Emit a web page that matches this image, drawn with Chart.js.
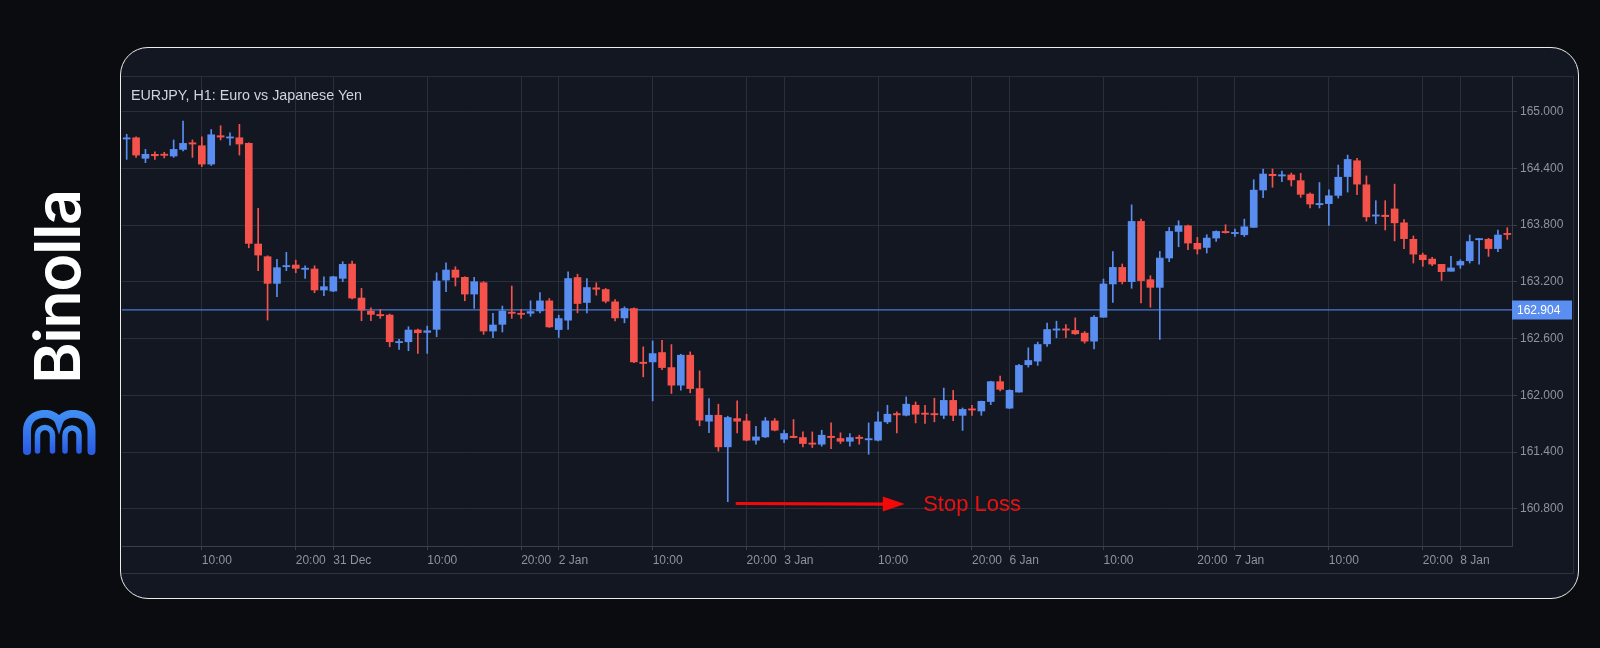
<!DOCTYPE html>
<html>
<head>
<meta charset="utf-8">
<script src="https://cdn.jsdelivr.net/npm/chart.js@4.4.1/dist/chart.umd.min.js"></script>
<style>
  html, body { margin: 0; padding: 0; width: 1600px; height: 648px; overflow: hidden; background: #0b0c10; }
  #card { position: absolute; left: 120px; top: 47px; width: 1459px; height: 552px; box-sizing: border-box;
          border: 1.5px solid #ececec; border-radius: 28px; background: #131722; }
  #frame { position: absolute; left: 122px; top: 76px; width: 1452px; height: 498px; box-sizing: border-box;
           border-top: 1px solid #2a2e39; border-right: 1px solid #2a2e39; border-bottom: 1px solid #2f333e; }
  #chart { position: absolute; left: 0; top: 0; }
  #title { position: absolute; left: 131px; top: 87px; font-family: "Liberation Sans", Arial, sans-serif;
           font-size: 14.3px; line-height: 16px; color: #d1d4dc; white-space: nowrap; }
  #brand { position: absolute; left: -43px; top: 252px; width: 200px; height: 70px; transform: rotate(-90deg);
           display: flex; align-items: center; justify-content: center; color: #ffffff;
           font-family: Inter, "Open Sans", sans-serif; font-weight: 600; font-size: 63px; letter-spacing: -1.5px; line-height: 70px; }
  #logo { position: absolute; left: 22px; top: 410px; }
</style>
</head>
<body>
<div id="card"></div>
<div id="frame"></div>
<canvas id="chart" width="1600" height="648"></canvas>
<div id="title">EURJPY, H1: Euro vs Japanese Yen</div>
<div id="brand">Binolla</div>
<svg id="logo" width="76" height="46" viewBox="0 0 76 46">
  <defs>
    <linearGradient id="lg" x1="0" y1="0" x2="0" y2="1">
      <stop offset="0" stop-color="#3f8cf3"/>
      <stop offset="1" stop-color="#2b5ee6"/>
    </linearGradient>
  </defs>
  <g fill="none" stroke="url(#lg)" stroke-linecap="round">
    <path stroke-width="8" d="M5 41 V21 C5 0 33 0 37 12 C41 0 69.5 0 69.5 21 V41"/>
    <path stroke-width="5.5" d="M15.5 41 V25 A7.5 7.5 0 0 1 30.5 25 V41"/>
    <path stroke-width="5.5" d="M43 41 V25 A7 7 0 0 1 57 25 V41"/>
  </g>
</svg>
<script>
// ---- data ----
const days = ['30 Dec', '31 Dec', '2 Jan', '3 Jan', '6 Jan', '7 Jan', '8 Jan'];
const firstHour = 2, lastHour = 5;
const categories = [];
days.forEach((d, di) => {
  const h0 = di === 0 ? firstHour : 0;
  const h1 = di === days.length - 1 ? lastHour : 23;
  for (let h = h0; h <= h1; h++) categories.push(d + ' ' + String(h).padStart(2, '0') + ':00');
});
const labeledHours = [0, 10, 20];

const opens = [164.710,164.723,164.506,164.548,164.548,164.530,164.600,164.670,164.639,164.445,
164.745,164.720,164.723,164.664,163.600,163.466,163.184,163.360,163.378,163.332,
163.336,163.114,163.103,163.237,163.388,163.029,162.891,162.853,162.849,162.557,
162.567,162.691,162.666,162.698,163.219,163.325,163.248,163.071,163.191,162.680,
162.751,162.880,162.867,162.868,162.893,162.999,162.696,162.795,163.246,162.982,
163.137,163.119,162.989,162.819,162.918,162.351,162.354,162.453,162.294,162.108,
162.425,162.072,161.727,161.790,161.456,161.755,161.730,161.526,161.561,161.730,
161.537,161.568,161.554,161.494,161.484,161.568,161.544,161.515,161.558,161.530,
161.526,161.720,161.808,161.790,161.896,161.810,161.803,161.789,161.947,161.789,
161.855,161.835,161.935,162.145,161.865,162.035,162.324,162.362,162.545,162.690,
162.700,162.686,162.658,162.573,162.826,163.178,163.353,163.202,163.839,163.223,
163.142,163.452,163.733,163.793,163.607,163.564,163.663,163.733,163.710,163.698,
163.776,164.171,164.337,164.319,164.330,164.270,164.128,164.016,164.027,164.114,
164.313,164.480,164.226,163.895,163.905,163.971,163.824,163.650,163.483,163.441,
163.385,163.312,163.378,163.423,163.645,163.650,163.552,163.710];

const highs = [164.760,164.734,164.600,164.575,164.570,164.700,164.900,164.700,164.734,164.810,
164.850,164.776,164.865,164.670,163.977,163.476,163.438,163.512,163.430,163.370,
163.370,163.254,163.260,163.413,163.420,163.131,162.926,162.909,162.860,162.592,
162.726,162.700,162.733,163.296,163.402,163.360,163.254,163.248,163.202,162.867,
162.944,163.156,162.909,163.000,163.087,163.024,162.848,163.306,163.281,163.235,
163.190,163.130,163.013,162.936,162.925,162.513,162.576,162.583,162.537,162.435,
162.460,162.259,161.967,161.907,161.780,161.942,161.801,161.674,161.766,161.755,
161.632,161.745,161.614,161.614,161.632,161.709,161.604,161.597,161.579,161.709,
161.826,161.896,161.826,161.984,161.931,161.894,161.970,162.077,162.053,161.867,
161.894,161.940,162.150,162.204,162.060,162.327,162.503,162.563,162.763,162.784,
162.749,162.819,162.675,162.844,163.230,163.519,163.389,164.014,163.863,163.265,
163.522,163.775,163.846,163.800,163.670,163.698,163.740,163.804,163.758,163.863,
164.280,164.393,164.393,164.372,164.350,164.347,164.140,164.250,164.173,164.435,
164.540,164.505,164.320,164.058,164.058,164.233,163.859,163.685,163.504,163.458,
163.385,163.469,163.434,163.695,163.660,163.661,163.748,163.772];

const lows = [164.495,164.516,164.460,164.495,164.510,164.516,164.583,164.516,164.417,164.430,
164.700,164.646,164.540,163.560,163.318,162.796,163.043,163.318,163.296,163.237,
163.085,163.053,163.096,163.202,163.020,162.789,162.789,162.814,162.514,162.487,
162.472,162.444,162.444,162.620,163.096,163.156,163.000,162.920,162.645,162.609,
162.670,162.814,162.814,162.837,162.872,162.717,162.612,162.696,162.872,162.872,
163.059,162.978,162.788,162.767,162.347,162.196,161.942,162.273,162.020,162.055,
162.027,161.678,161.607,161.410,160.876,161.604,161.519,161.484,161.554,161.625,
161.501,161.551,161.456,161.449,161.463,161.438,161.491,161.463,161.484,161.378,
161.519,161.702,161.604,161.783,161.709,161.705,161.720,161.754,161.733,161.630,
161.789,161.789,161.902,162.046,161.860,162.035,162.299,162.317,162.517,162.609,
162.609,162.644,162.552,162.492,162.826,162.984,163.178,163.132,162.977,162.932,
162.591,163.413,163.571,163.540,163.494,163.505,163.628,163.715,163.680,163.680,
163.776,164.090,164.200,164.259,164.213,164.093,163.981,163.981,163.797,164.086,
164.149,164.121,163.842,163.814,163.748,163.633,163.552,163.399,163.364,163.371,
163.214,163.312,163.343,163.399,163.388,163.469,163.518,163.650];

const closes = [164.715,164.540,164.548,164.533,164.537,164.600,164.664,164.657,164.445,164.755,
164.730,164.730,164.657,163.607,163.483,163.184,163.350,163.370,163.343,163.343,
163.114,163.149,163.254,163.385,163.029,162.902,162.856,162.842,162.567,162.567,
162.691,162.662,162.683,163.209,163.325,163.248,163.071,163.202,162.680,162.744,
162.891,162.867,162.856,162.886,162.999,162.724,162.812,163.235,162.971,163.140,
163.122,162.996,162.819,162.918,162.354,162.337,162.442,162.294,162.108,162.425,
162.072,161.738,161.790,161.456,161.766,161.727,161.526,161.561,161.730,161.632,
161.597,161.554,161.491,161.484,161.579,161.554,161.515,161.554,161.544,161.537,
161.720,161.801,161.794,161.907,161.801,161.800,161.795,161.947,161.789,161.852,
161.845,161.937,162.145,162.064,162.053,162.317,162.369,162.538,162.696,162.700,
162.690,162.651,162.573,162.826,163.178,163.353,163.202,163.839,163.213,163.142,
163.452,163.733,163.793,163.610,163.547,163.663,163.733,163.720,163.720,163.782,
164.170,164.340,164.322,164.330,164.278,164.125,164.023,164.025,164.110,164.306,
164.494,164.233,163.887,163.905,163.890,163.824,163.657,163.493,163.434,163.388,
163.308,163.347,163.416,163.626,163.655,163.552,163.695,163.700];

const priceTicks = [160.8, 161.4, 162.0, 162.6, 163.2, 163.8, 164.4, 165.0];
const yMin = 160.408, yMax = 165.376;
const levelPrice = 162.904;
const stopLoss = { text: 'Stop Loss', price: 160.857, fromIndex: 64.85, toIndex: 82.85, labelIndex: 84.8 };

// ---- style ----
const UP = '#5a8df0', DOWN = '#f5524c';
const GRID = '#2a2e39', AXIS = '#3a3e49', TICKTXT = '#8f939c', DAYTXT = '#b2b5be';

const isUp = i => closes[i] >= opens[i];
const candleColors = opens.map((o, i) => isUp(i) ? UP : DOWN);
const hourOf = i => parseInt(categories[i].split(' ').pop(), 10);
const dayOf = i => categories[i].split(' ').slice(0, 2).join(' ');
function xTickLabel(i) {
  const h = hourOf(i);
  if (!labeledHours.includes(h)) return null;
  if (h === 0) return dayOf(i);
  return String(h).padStart(2, '0') + ':00';
}

const overlay = {
  id: 'overlay',
  beforeDatasetsDraw(chart) {
    const { ctx, chartArea, scales } = chart;
    const y = scales.y.getPixelForValue(levelPrice);
    ctx.save();
    ctx.strokeStyle = '#4a7ad6';
    ctx.lineWidth = 1.4;
    ctx.beginPath();
    ctx.moveTo(chartArea.left, y);
    ctx.lineTo(chartArea.right, y);
    ctx.stroke();
    ctx.restore();
  },
  afterDraw(chart) {
    const { ctx, chartArea, scales } = chart;
    const y = scales.y.getPixelForValue(levelPrice);
    ctx.save();
    ctx.fillStyle = '#5a8ef0';
    ctx.fillRect(chartArea.right, Math.round(y) - 9.5, 60, 19);
    ctx.fillStyle = '#ffffff';
    ctx.font = '12px "Liberation Sans", Arial, sans-serif';
    ctx.textBaseline = 'middle';
    ctx.textAlign = 'left';
    ctx.fillText(levelPrice.toFixed(3), chartArea.right + 5, Math.round(y) + 0.5);

    // Stop loss arrow
    const ay = scales.y.getPixelForValue(stopLoss.price);
    const x0 = scales.x.getPixelForValue(stopLoss.fromIndex);
    const x1 = scales.x.getPixelForValue(stopLoss.toIndex);
    ctx.strokeStyle = '#f20a0a';
    ctx.fillStyle = '#f20a0a';
    ctx.lineWidth = 3.2;
    ctx.beginPath();
    ctx.moveTo(x0, ay);
    ctx.lineTo(x1 - 20, ay + 0.6);
    ctx.stroke();
    ctx.beginPath();
    ctx.moveTo(x1, ay + 0.6);
    ctx.lineTo(x1 - 22, ay - 7);
    ctx.lineTo(x1 - 22, ay + 8);
    ctx.closePath();
    ctx.fill();
    ctx.fillStyle = '#ea1111';
    ctx.font = '22px "Liberation Sans", Arial, sans-serif';
    ctx.textBaseline = 'middle';
    ctx.fillText(stopLoss.text, scales.x.getPixelForValue(stopLoss.labelIndex), ay + 1);
    ctx.restore();
  }
};

new Chart(document.getElementById('chart'), {
  type: 'bar',
  data: {
    labels: categories,
    datasets: [
      { label: 'wick', data: lows.map((l, i) => [l, highs[i]]), backgroundColor: candleColors,
        barThickness: 1, grouped: false, order: 2, borderWidth: 0 },
      { label: 'body', data: opens.map((o, i) => [o, closes[i]]), backgroundColor: candleColors,
        barThickness: 7, grouped: false, order: 1, borderWidth: 0, minBarLength: 1.2 }
    ]
  },
  options: {
    responsive: false,
    animation: false,
    devicePixelRatio: 1,
    layout: { padding: { left: 122, top: 76, right: 27, bottom: 75 } },
    plugins: { legend: { display: false }, tooltip: { enabled: false } },
    scales: {
      x: {
        type: 'category',
        offset: true,
        grid: { offset: false, color: GRID, tickColor: AXIS, tickLength: 4, drawTicks: true },
        border: { color: AXIS },
        ticks: {
          autoSkip: false, maxRotation: 0, minRotation: 0, align: 'start', padding: 3,
          callback: (v, i) => xTickLabel(i),
          color: ctx => hourOf(ctx.index) === 0 ? DAYTXT : TICKTXT,
          font: { family: '"Liberation Sans", Arial, sans-serif', size: 12 }
        },
        afterFit: s => { s.height = 27; s.paddingLeft = 0; s.paddingRight = 0; }
      },
      y: {
        position: 'right',
        min: yMin, max: yMax,
        afterBuildTicks: s => { s.ticks = priceTicks.map(v => ({ value: v })); },
        grid: { color: GRID, tickColor: AXIS, tickLength: 5 },
        border: { color: AXIS },
        ticks: {
          padding: 3, color: TICKTXT,
          font: { family: '"Liberation Sans", Arial, sans-serif', size: 12 },
          callback: v => Number(v).toFixed(3)
        },
        afterFit: s => { s.width = 61; s.paddingTop = 0; s.paddingBottom = 0; }
      }
    }
  },
  plugins: [overlay]
});
</script>
</body>
</html>
